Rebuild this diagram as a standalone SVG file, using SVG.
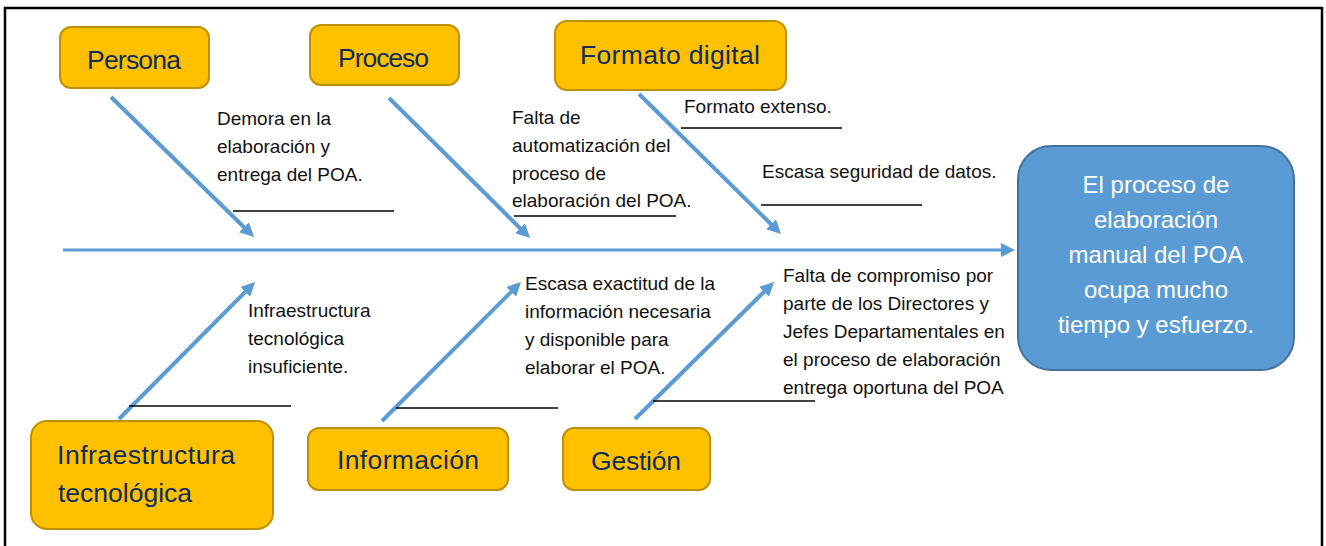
<svg xmlns="http://www.w3.org/2000/svg" width="1326" height="546" viewBox="0 0 1326 546">
<style>
.cat{fill:#FFC000;stroke:#BF9000;stroke-width:2}
.lbl{font-family:"Liberation Sans",Arial,sans-serif;font-size:26.5px;fill:#0F2D5C}
.note{font-family:"Liberation Sans",Arial,sans-serif;font-size:19px;fill:#111}
.eff{font-family:"Liberation Sans",Arial,sans-serif;font-size:24px;fill:#fff;text-anchor:middle}
.bone{stroke:#5B9BD5;stroke-width:4;fill:none;marker-end:url(#ah)}
.spine{stroke:#5B9BD5;stroke-width:3;fill:none;marker-end:url(#ah)}
.ul{stroke:#000;stroke-width:1.3}
</style>
<defs>
<marker id="ah" viewBox="0 0 14 14" markerUnits="userSpaceOnUse" markerWidth="14" markerHeight="14" refX="4" refY="7" orient="auto">
<path d="M0,0 L14,7 L0,14 z" fill="#5B9BD5"/>
</marker>
</defs>
<rect x="0" y="0" width="1326" height="546" fill="#fff"/>
<rect x="5" y="8" width="1317" height="570" fill="none" stroke="#000" stroke-width="2.5"/>

<g id="connectors">
<line class="spine" x1="63" y1="250" x2="1005" y2="250"/>
<line class="bone" x1="111" y1="97" x2="246.9" y2="230"/>
<line class="bone" x1="389" y1="98" x2="522.9" y2="231"/>
<line class="bone" x1="639" y1="94" x2="773.9" y2="227"/>
<line class="bone" x1="119" y1="419" x2="248" y2="289.1"/>
<line class="bone" x1="382" y1="421" x2="513.9" y2="289.1"/>
<line class="bone" x1="635" y1="419" x2="766.9" y2="289"/>
</g>

<g id="underlines">
<line class="ul" x1="233" y1="211" x2="394" y2="211"/>
<line class="ul" x1="514" y1="216" x2="676" y2="216"/>
<line class="ul" x1="681" y1="128" x2="842" y2="128"/>
<line class="ul" x1="761" y1="205" x2="922" y2="205"/>
<line class="ul" x1="129" y1="406" x2="291" y2="406"/>
<line class="ul" x1="396" y1="408" x2="558" y2="408"/>
<line class="ul" x1="653" y1="401" x2="815" y2="401"/>
</g>

<g id="persona">
<rect class="cat" x="60" y="27" width="149" height="61" rx="11"/>
<text class="lbl" x="87" y="69" textLength="94">Persona</text>
</g>
<g id="proceso">
<rect class="cat" x="310" y="25" width="149" height="60" rx="11"/>
<text class="lbl" x="338" y="67" textLength="91">Proceso</text>
</g>
<g id="formato">
<rect class="cat" x="555" y="21" width="231" height="69" rx="12"/>
<text class="lbl" x="580" y="64" textLength="180">Formato digital</text>
</g>
<g id="infraestructura">
<rect class="cat" x="31" y="421" width="242" height="108" rx="16"/>
<text class="lbl" x="57" y="464" textLength="178">Infraestructura</text>
<text class="lbl" x="58" y="502" textLength="134">tecnológica</text>
</g>
<g id="informacion">
<rect class="cat" x="308" y="428" width="200" height="62" rx="11"/>
<text class="lbl" x="337" y="469" textLength="142">Información</text>
</g>
<g id="gestion">
<rect class="cat" x="563" y="428" width="147" height="62" rx="11"/>
<text class="lbl" x="591" y="470" textLength="90">Gestión</text>
</g>

<g id="efecto">
<rect x="1018" y="146" width="276" height="224" rx="33" fill="#5B9BD5" stroke="#41719C" stroke-width="2"/>
<text class="eff" x="1156" y="193">El proceso de</text>
<text class="eff" x="1156" y="228">elaboración</text>
<text class="eff" x="1156" y="263">manual del POA</text>
<text class="eff" x="1156" y="298">ocupa mucho</text>
<text class="eff" x="1156" y="333">tiempo y esfuerzo.</text>
</g>

<g id="notes">
<text class="note" x="217" y="125">Demora en la</text>
<text class="note" x="217" y="153">elaboración y</text>
<text class="note" x="217" y="181">entrega del POA.</text>

<text class="note" x="512" y="124">Falta de</text>
<text class="note" x="512" y="152">automatización del</text>
<text class="note" x="512" y="180">proceso de</text>
<text class="note" x="512" y="207">elaboración del POA.</text>

<text class="note" x="684" y="113">Formato extenso.</text>
<text class="note" x="762" y="178">Escasa seguridad de datos.</text>

<text class="note" x="248" y="317">Infraestructura</text>
<text class="note" x="248" y="345">tecnológica</text>
<text class="note" x="248" y="373">insuficiente.</text>

<text class="note" x="525" y="290">Escasa exactitud de la</text>
<text class="note" x="525" y="318">información necesaria</text>
<text class="note" x="525" y="346">y disponible para</text>
<text class="note" x="525" y="374">elaborar el POA.</text>

<text class="note" x="783" y="282">Falta de compromiso por</text>
<text class="note" x="783" y="310">parte de los Directores y</text>
<text class="note" x="783" y="338">Jefes Departamentales en</text>
<text class="note" x="783" y="366">el proceso de elaboración</text>
<text class="note" x="783" y="394">entrega oportuna del POA</text>
</g>
</svg>
